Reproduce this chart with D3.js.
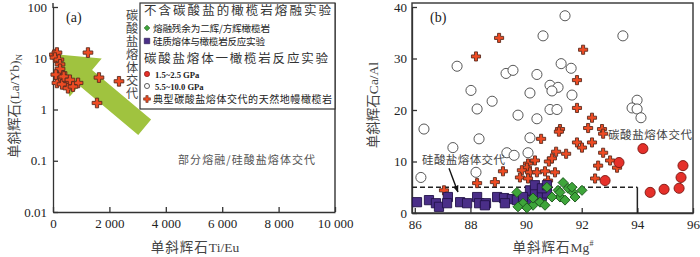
<!DOCTYPE html>
<html>
<head>
<meta charset="utf-8">
<script src="https://cdn.jsdelivr.net/npm/d3@7"></script>
<style>
  body { margin: 0; background: #fff; }
  svg { display: block; }
  .axis path, .axis line { stroke: #333; stroke-width: 1.3; }
  .axis text { font-family: "Liberation Serif", serif; font-size: 13px; fill: #222; }
  .cjk { font-family: "Noto Sans CJK SC", sans-serif; }
  .ser { font-family: "Liberation Serif", serif; }
  .vert { writing-mode: vertical-rl; text-orientation: upright; }
</style>
</head>
<body>
<svg id="chart" width="700" height="257"></svg>
<script>
// ---- panel (a): Ti/Eu vs (La/Yb)N, natural carbonatite-metasomatised peridotites
var aTiEu = [50, 140, 70, 210, 250, 320, 210, 140, 430, 500, 320, 530, 890, 1240, 1630, 1560, 2340, 250, 710, 100, 380, 600];
var aLaYb = [11.8, 12.9, 10.3, 9.4, 7.6, 5.1, 4.1, 3.3, 3.55, 3.1, 3.1, 2.6, 3.3, 12.9, 4.2, 1.34, 3.55, 6.2, 2.8, 4.8, 4.4, 3.8];

var aXTicks = [0, 2000, 4000, 6000, 8000, 10000];
var aXTickText = ["0", "2 000", "4 000", "6 000", "8 000", "10 000"];
var aYTicks = [0.01, 0.1, 1, 10, 100];
var aYTickText = ["0.01", "0.1", "1", "10", "100"];

// ---- panel (b): Mg# vs Ca/Al
// 5.5~10.0 GPa carbonate melt experiments (open circles)
var hpMg = [86.33, 86.22, 87.37, 87.52, 88.02, 88.24, 88.31, 88.20, 88.78, 89.28, 89.53, 89.71, 89.31, 89.57, 90.14, 90.14, 90.07, 90.39, 90.39, 90.61, 91.40, 91.26, 91.62, 90.86, 91.15, 90.93, 91.65, 90.86, 91.11, 93.48, 93.99, 93.81, 93.99, 94.13];
var hpCaAl = [16.3, 6.9, 12.7, 28.5, 23.8, 20.2, 14.4, 7.9, 21.7, 27.1, 27.7, 19.0, 11.7, 11.2, 23.3, 14.6, 11.7, 18.3, 26.9, 34.4, 38.3, 29.0, 28.1, 24.8, 24.4, 23.7, 22.9, 20.1, 20.1, 34.4, 21.9, 20.4, 20.2, 18.5];
// 1.5~2.5 GPa (red circles)
var lpMg = [94.20, 93.34, 92.84, 94.46, 94.96, 95.50, 95.57, 95.64];
var lpCaAl = [12.5, 9.8, 6.3, 4.0, 4.6, 4.8, 6.9, 9.2];
// natural peridotites (crosses)
var natMg = [89.03, 88.20, 92.05, 91.83, 91.83, 92.37, 92.23, 92.73, 91.22, 92.77, 91.18, 90.54, 91.83, 92.01, 92.37, 91.08, 91.44, 92.77, 90.82, 90.93, 93.02, 93.27, 92.59, 90.07, 90.03, 89.85, 90.14, 90.39, 90.68, 91.04, 89.17, 89.78, 90.07, 90.79, 88.88, 88.24, 87.05, 92.48, 90.32];
var natCaAl = [34.0, 30.4, 31.7, 25.8, 20.4, 18.5, 16.5, 16.3, 16.3, 15.4, 15.8, 14.4, 13.7, 12.7, 13.7, 11.9, 11.5, 11.7, 10.0, 10.6, 10.2, 8.8, 9.2, 9.6, 8.8, 8.3, 7.9, 7.9, 8.1, 7.9, 8.1, 6.9, 6.7, 6.3, 6.0, 5.8, 4.4, 6.7, 10.2];
// melting residues (green diamonds)
var resMg = [89.67, 89.89, 89.71, 90.25, 90.03, 90.50, 90.75, 91.15, 91.33, 91.51, 91.22, 91.69, 90.93, 92.01, 91.65, 91.22, 90.68, 91.40, 91.76, 90.25];
var resCaAl = [4.0, 1.9, 1.2, 1.5, 1.0, 2.1, 5.0, 4.4, 5.9, 4.8, 3.1, 4.0, 3.1, 4.4, 5.0, 4.0, 1.5, 2.5, 3.1, 2.9];
// silicate melt - peridotite reaction (purple squares)
var silMg = [86.08, 86.51, 86.76, 86.87, 87.19, 87.16, 87.63, 87.88, 88.24, 88.31, 88.56, 88.96, 89.21, 89.49, 89.78, 90.07, 88.52, 89.24, 89.67, 90.14, 90.32, 90.57, 90.75, 89.89, 90.32, 90.57, 90.75];
var silCaAl = [2.1, 2.5, 1.9, 1.2, 3.1, 1.9, 2.1, 1.9, 3.1, 1.9, 1.9, 3.1, 2.9, 2.7, 2.9, 2.5, 1.5, 1.9, 2.5, 4.4, 4.0, 3.3, 3.8, 3.1, 5.4, 4.8, 5.4];

var bXTicks = [86, 88, 90, 92, 94, 96];
var bYTicks = [0, 10, 20, 30, 40];

// field boundary (dashed) in panel b
var fieldMg = [85.9, 94, 94];
var fieldCaAl = [5, 5, 0];

var colCross = "#ee4b23", colCrossEdge = "#5b2c1f";
var colRed = "#e5302a", colGreen = "#3ea53a", colPurple = "#4a2e88";

var svg = d3.select("#chart");

function fixAxis(g) {
  g.select(".domain").attr("stroke", "#333").attr("stroke-width", 1.4);
}

// ================= panel (a) =================
var xa = d3.scaleLinear().domain([0, 10000]).range([53, 335]);
var ya = d3.scaleLog().domain([0.01, 100]).range([212, 7]);

svg.append("g").attr("class", "axis")
    .attr("transform", "translate(0,212)")
    .call(d3.axisBottom(xa).tickValues(aXTicks)
      .tickFormat(function(d, i) { return aXTickText[i]; })
      .tickSizeInner(-5).tickSizeOuter(0).tickPadding(7))
    .call(fixAxis);

svg.append("g").attr("class", "axis")
    .attr("transform", "translate(53,0)")
    .call(d3.axisLeft(ya).tickValues(aYTicks)
      .tickFormat(function(d, i) { return aYTickText[i]; })
      .tickSizeInner(-5).tickSizeOuter(0).tickPadding(6))
    .call(fixAxis);
svg.append("line").attr("x1", 53).attr("x2", 53).attr("y1", 3).attr("y2", 8)
    .attr("stroke", "#333").attr("stroke-width", 1.4);

// right border
svg.append("line").attr("x1", 335).attr("x2", 335).attr("y1", 3).attr("y2", 212)
    .attr("stroke", "#333").attr("stroke-width", 1.4);

// green arrow (annotation, defined in data units)
var arrTail = [xa(3250), ya(0.45)], arrTip = [xa(180), ya(11.8)];
(function() {
  var dx = arrTip[0] - arrTail[0], dy = arrTip[1] - arrTail[1];
  var L = Math.sqrt(dx * dx + dy * dy), ux = dx / L, uy = dy / L, nx = -uy, ny = ux;
  var head = 36, hw = 25, sw = 10;
  var bx = arrTip[0] - ux * head, by = arrTip[1] - uy * head;
  var pts = [
    [arrTail[0] + nx * sw, arrTail[1] + ny * sw],
    [bx + nx * sw, by + ny * sw],
    [bx + nx * hw, by + ny * hw],
    arrTip,
    [bx - nx * hw, by - ny * hw],
    [bx - nx * sw, by - ny * sw],
    [arrTail[0] - nx * sw, arrTail[1] - ny * sw]
  ];
  svg.append("polygon").attr("points", pts.map(function(p) { return p.join(","); }).join(" "))
      .attr("fill", "#a0c33f");
})();

svg.append("g").selectAll("path").data(aTiEu).enter().append("path")
    .attr("d", d3.symbol().type(d3.symbolCross).size(52))
    .attr("transform", function(d, i) { return "translate(" + xa(d) + "," + ya(aLaYb[i]) + ")"; })
    .attr("fill", colCross).attr("stroke", colCrossEdge).attr("stroke-width", 0.9);

svg.append("text").attr("class", "ser").attr("x", 66).attr("y", 22)
    .attr("font-size", 14).attr("fill", "#222").text("(a)");

// vertical label (one text element, vertical writing mode)
svg.append("text").attr("class", "cjk vert").attr("x", 132).attr("y", 9)
    .attr("font-size", 12.2).attr("letter-spacing", 0.9).attr("fill", "#444")
    .text("碳酸盐熔体交代");

svg.append("text").attr("class", "cjk").attr("x", 178).attr("y", 164)
    .attr("font-size", 11).attr("fill", "#555").attr("textLength", 137)
    .text("部分熔融/硅酸盐熔体交代");

// legend
var lg = svg.append("g");
lg.append("rect").attr("x", 140).attr("y", 3).attr("width", 195).attr("height", 106)
    .attr("fill", "#fff").attr("stroke", "#333").attr("stroke-width", 1.2);
lg.append("text").attr("class", "cjk").attr("x", 144).attr("y", 15).attr("font-size", 12.5)
    .attr("fill", "#333").attr("textLength", 187).text("不含碳酸盐的橄榄岩熔融实验");
lg.append("text").attr("class", "cjk").attr("x", 144).attr("y", 63).attr("font-size", 12.5)
    .attr("fill", "#333").attr("textLength", 184).text("碳酸盐熔体一橄榄岩反应实验");

var legRows = [
  { y: 28, sym: "dia", text: "熔融残余为二辉/方辉橄榄岩", len: 117, cls: "cjk", fs: 9.6 },
  { y: 41, sym: "sq", text: "硅质熔体与橄榄岩反应实验", len: 112, cls: "cjk", fs: 9.6 },
  { y: 74, sym: "red", text: "1.5~2.5 GPa", len: 0, cls: "ser", fs: 8.6 },
  { y: 86, sym: "open", text: "5.5~10.0 GPa", len: 0, cls: "ser", fs: 8.6 },
  { y: 99, sym: "cross", text: "典型碳酸盐熔体交代的天然地幔橄榄岩", len: 179, cls: "cjk", fs: 10 }
];
legRows.forEach(function(r) {
  var m = lg.append("path").attr("transform", "translate(147," + r.y + ")");
  if (r.sym === "dia") m.attr("d", d3.symbol().type(d3.symbolSquare).size(16)())
      .attr("transform", "translate(147," + r.y + ") rotate(45)").attr("fill", colGreen).attr("stroke", "#1d5a1d").attr("stroke-width", 0.6);
  if (r.sym === "sq") m.attr("d", d3.symbol().type(d3.symbolSquare).size(30)()).attr("fill", colPurple).attr("stroke", "#1f1248").attr("stroke-width", 0.6);
  if (r.sym === "red") m.attr("d", d3.symbol().type(d3.symbolCircle).size(22)()).attr("fill", colRed).attr("stroke", "#7a1510").attr("stroke-width", 0.6);
  if (r.sym === "open") m.attr("d", d3.symbol().type(d3.symbolCircle).size(20)()).attr("fill", "#fff").attr("stroke", "#333").attr("stroke-width", 0.8);
  if (r.sym === "cross") m.attr("d", d3.symbol().type(d3.symbolCross).size(26)()).attr("fill", colCross).attr("stroke", colCrossEdge).attr("stroke-width", 0.6);
  var t = lg.append("text").attr("class", r.cls).attr("x", r.cls === "ser" ? 155 : 153).attr("y", r.y + 3.5)
      .attr("font-size", r.fs).attr("font-weight", r.cls === "ser" ? "bold" : "normal")
      .attr("fill", "#222").text(r.text);
  if (r.len) t.attr("textLength", r.len);
});

// axis titles (a)
var xta = svg.append("text").attr("x", 195).attr("y", 252).attr("text-anchor", "middle")
    .attr("font-size", 13.5).attr("fill", "#444");
xta.append("tspan").attr("class", "cjk").attr("letter-spacing", 1).text("单斜辉石");
xta.append("tspan").attr("class", "ser").text("Ti/Eu");

var yta = svg.append("text").attr("transform", "translate(19,106) rotate(-90)")
    .attr("text-anchor", "middle").attr("font-size", 13.5).attr("fill", "#444");
yta.append("tspan").attr("class", "cjk").text("单斜辉石");
yta.append("tspan").attr("class", "ser").text("(La/Yb)");
yta.append("tspan").attr("class", "ser").attr("font-size", 9).attr("dy", 3).text("N");

// ================= panel (b) =================
var xb = d3.scaleLinear().domain([85.9, 96]).range([412, 693]);
var yb = d3.scaleLinear().domain([0, 40]).range([213, 7]);

svg.append("rect").attr("x", 412).attr("y", 3).attr("width", 281).attr("height", 210)
    .attr("fill", "none").attr("stroke", "#333").attr("stroke-width", 1.4);

svg.append("g").attr("class", "axis")
    .attr("transform", "translate(0,213)")
    .call(d3.axisBottom(xb).tickValues(bXTicks).tickSizeInner(-5).tickSizeOuter(0).tickPadding(7))
    .call(fixAxis);
svg.append("g").attr("class", "axis")
    .attr("transform", "translate(412,0)")
    .call(d3.axisLeft(yb).tickValues(bYTicks).tickSizeInner(-5).tickSizeOuter(0).tickPadding(5))
    .call(fixAxis);

// dashed field
svg.append("path")
    .attr("d", "M" + xb(fieldMg[0]) + "," + yb(fieldCaAl[0]) + "L" + xb(fieldMg[1]) + "," + yb(fieldCaAl[1]))
    .attr("stroke", "#222").attr("stroke-width", 1.5).attr("stroke-dasharray", "5,3").attr("fill", "none");
svg.append("path")
    .attr("d", "M" + xb(fieldMg[1]) + "," + yb(fieldCaAl[1]) + "L" + xb(fieldMg[2]) + "," + yb(fieldCaAl[2]))
    .attr("stroke", "#222").attr("stroke-width", 1.5).attr("fill", "none");

function plotB(xs, ys, type, size, fill, stroke, rot) {
  svg.append("g").selectAll("path").data(xs).enter().append("path")
      .attr("d", d3.symbol().type(type).size(size))
      .attr("transform", function(d, i) {
        return "translate(" + xb(d) + "," + yb(ys[i]) + ")" + (rot ? " rotate(45)" : "");
      })
      .attr("fill", fill).attr("stroke", stroke).attr("stroke-width", 0.9);
}
plotB(hpMg, hpCaAl, d3.symbolCircle, 80, "#fff", "#444");
plotB(natMg, natCaAl, d3.symbolCross, 46, colCross, colCrossEdge);
plotB(silMg, silCaAl, d3.symbolSquare, 85, colPurple, "#22124a");
plotB(resMg, resCaAl, d3.symbolSquare, 50, colGreen, "#1b561b", true);
plotB(lpMg, lpCaAl, d3.symbolCircle, 80, colRed, "#7a1510");

svg.append("text").attr("class", "ser").attr("x", 430).attr("y", 22)
    .attr("font-size", 14).attr("fill", "#222").text("(b)");

svg.append("text").attr("class", "cjk").attr("x", 422).attr("y", 164)
    .attr("font-size", 11.5).attr("fill", "#444").attr("textLength", 83).text("硅酸盐熔体交代");
svg.append("text").attr("class", "cjk").attr("x", 608).attr("y", 139)
    .attr("font-size", 11.5).attr("fill", "#444").attr("textLength", 84).text("碳酸盐熔体交代");

// pointer arrow
var pA = [xb(87.23), yb(8.7)], pB = [xb(87.55), yb(4.1)];
svg.append("defs").append("marker").attr("id", "ah").attr("viewBox", "0 0 10 10")
    .attr("refX", 9).attr("refY", 5).attr("markerWidth", 5).attr("markerHeight", 5).attr("orient", "auto")
  .append("path").attr("d", "M0,1L10,5L0,9z").attr("fill", "#111");
svg.append("line").attr("x1", pA[0]).attr("y1", pA[1]).attr("x2", pB[0]).attr("y2", pB[1])
    .attr("stroke", "#111").attr("stroke-width", 1.4).attr("marker-end", "url(#ah)");

// axis titles (b)
var xtb = svg.append("text").attr("x", 553).attr("y", 252).attr("text-anchor", "middle")
    .attr("font-size", 13.5).attr("fill", "#444");
xtb.append("tspan").attr("class", "cjk").attr("letter-spacing", 1).text("单斜辉石");
xtb.append("tspan").attr("class", "ser").text("Mg");
xtb.append("tspan").attr("class", "ser").attr("font-size", 8).attr("dy", -6).text("#");

var ytb = svg.append("text").attr("transform", "translate(378,105) rotate(-90)")
    .attr("text-anchor", "middle").attr("font-size", 13.5).attr("fill", "#444");
ytb.append("tspan").attr("class", "cjk").text("单斜辉石");
ytb.append("tspan").attr("class", "ser").text("Ca/Al");
</script>
</body>
</html>
